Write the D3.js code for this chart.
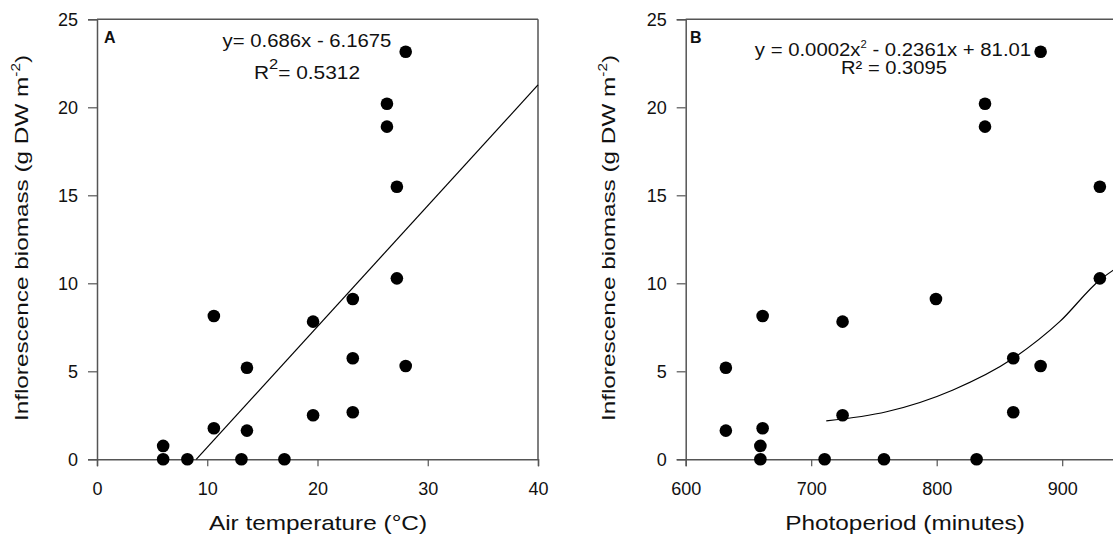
<!DOCTYPE html>
<html>
<head>
<meta charset="utf-8">
<script src="https://cdn.jsdelivr.net/npm/d3@7"></script>
<style>
  body { margin: 0; background: white; }
  text { font-family: "Liberation Sans", Arial, sans-serif; fill: #111; }
</style>
</head>
<body>
<div id="chart"></div>
<script>

// Data: biomass (g DW m-2) against air temperature and photoperiod
const biomass     = [0, 0.76, 0, 1.76, 8.14, 5.2, 1.63, 0, 0, 7.82, 2.5, 9.11, 5.74, 2.67, 10.28, 5.3, 15.49, 23.16, 20.2, 18.9]
const airTemp     = [6.0, 6.0, 8.2, 10.6, 10.6, 13.6, 13.6, 13.1, 17.0, 19.6, 19.6, 23.2, 23.2, 23.2, 27.2, 28.0, 27.2, 28.0, 26.3, 26.3]
const photoperiod = [659.5, 659.5, 710.7, 661.3, 661.3, 632, 632, 758, 831.8, 725, 725, 799.4, 861, 861, 930, 882.8, 930, 882.8, 838.5, 838.5]

// Trend lines
const lineA = [{x: 9.0, y: 0}, {x: 40, y: 21.27}]
const curveB = [{x: 712, y: 2.18}, {x: 760, y: 2.7}, {x: 813, y: 3.94}, {x: 861, y: 5.74}, {x: 898, y: 7.82}, {x: 930, y: 10.19}, {x: 941, y: 10.76}]

// Tick values
const yTicks  = [0, 5, 10, 15, 20, 25]
const xTicksA = [0, 10, 20, 30, 40]
const xTicksB = [600, 700, 800, 900]

const WIDTH = 1113
const HEIGHT = 546
const AXIS_COLOR = "#555"

let svg = d3.select("#chart").append("svg")
    .attr("width", WIDTH)
    .attr("height", HEIGHT)

// Shared y scale for both panels
let yScale = d3.scaleLinear().domain([0, 25]).range([459.3, 19.3])

// Text that is a bit wider than the font draws it, as in the original figure
function wideText(parent, x, y, size, sx, angle) {
    return parent.append("text")
        .attr("transform", "translate(" + x + "," + y + ") rotate(" + (angle || 0) + ") scale(" + sx + ",1)")
        .attr("text-anchor", "middle")
        .style("font-size", size + "px")
}

function drawPanel(opts) {
    let g = svg.append("g")
    let x = d3.scaleLinear().domain(opts.domain).range(opts.range)

    // y axis with outer ticks
    let yAxis = g.append("g")
        .attr("transform", "translate(" + opts.range[0] + ",0)")
        .call(d3.axisLeft(yScale).tickValues(yTicks).tickSize(9).tickPadding(10).tickFormat(d3.format("d")))
    // x axis
    let xAxis = g.append("g")
        .attr("transform", "translate(0," + yScale(0) + ")")
        .call(d3.axisBottom(x).tickValues(opts.ticks).tickSize(7).tickPadding(16).tickFormat(d3.format("d")))

    ;[yAxis, xAxis].forEach(function(a) {
        a.select(".domain").attr("stroke", AXIS_COLOR).attr("stroke-width", 1.5)
        a.selectAll(".tick line").attr("stroke", AXIS_COLOR).attr("stroke-width", 1.2)
        a.selectAll(".tick text").attr("fill", "#111").style("font-size", "18px")
            .style("font-family", "'Liberation Sans', Arial, sans-serif")
    })

    // top and right frame lines
    g.append("line")
        .attr("x1", opts.range[0]).attr("x2", opts.range[1])
        .attr("y1", yScale(25)).attr("y2", yScale(25))
        .attr("stroke", AXIS_COLOR).attr("stroke-width", 1.5)
    g.append("line")
        .attr("x1", opts.range[1]).attr("x2", opts.range[1])
        .attr("y1", yScale(25)).attr("y2", yScale(0))
        .attr("stroke", AXIS_COLOR).attr("stroke-width", 1.5)

    // trend line
    g.append("path")
        .datum(opts.trend)
        .attr("fill", "none")
        .attr("stroke", "#000")
        .attr("stroke-width", 1.2)
        .attr("d", d3.line().x(d => x(d.x)).y(d => yScale(d.y)).curve(d3.curveMonotoneX))

    // data points
    g.selectAll("circle")
        .data(opts.xs.map((v, i) => ({x: v, y: biomass[i]})))
        .enter()
        .append("circle")
        .attr("cx", d => x(d.x))
        .attr("cy", d => yScale(d.y))
        .attr("r", 6.3)
        .attr("fill", "#000")

    // panel letter
    g.append("text")
        .attr("x", opts.letterX).attr("y", 43)
        .style("font-size", "16px").style("font-weight", "bold")
        .text(opts.letter)

    // y axis title (stretched along its length)
    let yt = wideText(g, opts.yTitleX, 238, 19, 1.28, -90)
    yt.append("tspan").text("Inflorescence biomass (g DW m")
    yt.append("tspan").attr("dy", -8).style("font-size", "12px").text("-2")
    yt.append("tspan").attr("dy", 8).text(")")

    // x axis title
    wideText(g, opts.xTitleX, 530, 21, 1.16).text(opts.xTitle)

    return g
}

let gA = drawPanel({
    domain: [0, 40], range: [97, 538], ticks: xTicksA,
    xs: airTemp, trend: lineA, letter: "A", letterX: 104,
    yTitleX: 28, xTitleX: 318, xTitle: "Air temperature (°C)"
})

let gB = drawPanel({
    domain: [600, 1000], range: [685.7, 1187.7], ticks: xTicksB,
    xs: photoperiod, trend: curveB, letter: "B", letterX: 690,
    yTitleX: 615, xTitleX: 905, xTitle: "Photoperiod (minutes)"
})

// Equations
wideText(gA, 307, 47, 19, 1.07).text("y= 0.686x - 6.1675")
let eqA2 = wideText(gA, 307, 79, 19, 1.1)
eqA2.append("tspan").text("R")
eqA2.append("tspan").attr("dy", -10).style("font-size", "15px").text("2")
eqA2.append("tspan").attr("dy", 10).text("= 0.5312")

let eqB1 = wideText(gB, 893, 56, 18, 1.13)
eqB1.append("tspan").text("y = 0.0002x")
eqB1.append("tspan").attr("dy", -8).style("font-size", "10px").text("2")
eqB1.append("tspan").attr("dy", 8).text(" - 0.2361x + 81.01")
wideText(gB, 894, 74, 18, 1.12).text("R² = 0.3095")

</script>
</body>
</html>
